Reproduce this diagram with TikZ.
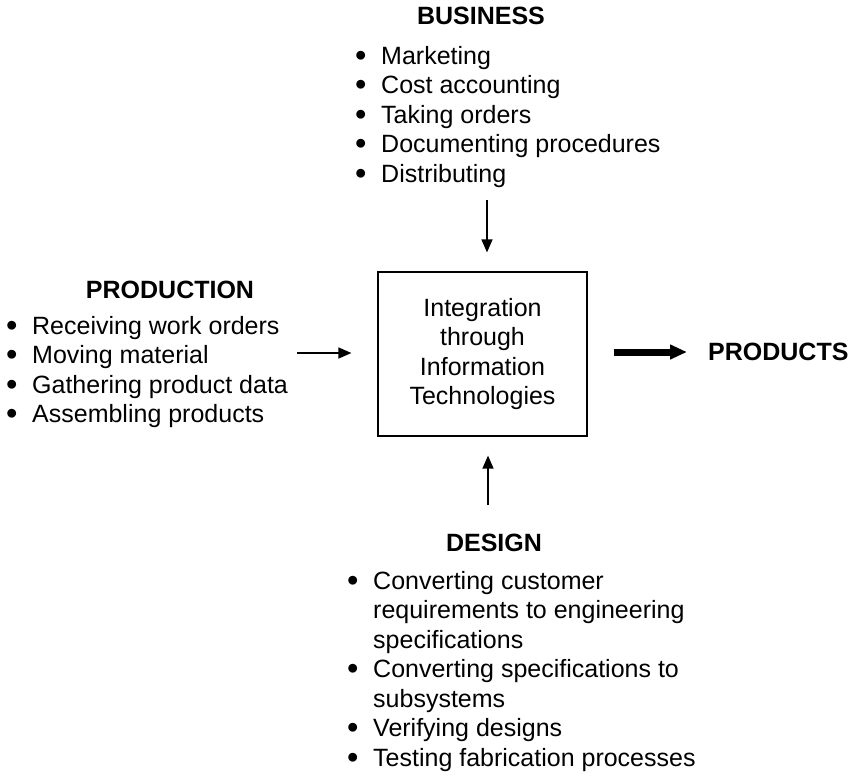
\documentclass[tikz,border=0pt]{standalone}
\usepackage{fontspec}
\usepackage{graphicx}
\setmainfont{Liberation Sans}
\usetikzlibrary{positioning}
\usetikzlibrary{arrows.meta}

\newcommand{\bul}{\makebox[24pt][l]{\hspace*{-2pt}\raisebox{-0.07em}{\scalebox{1.3}{\textbullet}}}}
\newcommand{\ind}{\hspace*{24pt}}

\begin{document}
\begin{tikzpicture}
		[x=1pt, y=-1pt,
		 heading/.style={font=\bfseries\fontsize{25}{29.5}\selectfont, inner sep=0pt},
		 items/.style={font=\fontsize{25}{29.5}\selectfont, align=left, anchor=north west, inner sep=0pt},
		 flow/.style={line width=1.3pt, -{Triangle[length=13pt, width=11pt]}},
		 bigflow/.style={line width=7pt, -{Triangle[length=17pt, width=14pt]}}]
		\useasboundingbox (0,0) rectangle (850,777);

		\node[draw, line width=1.2pt, minimum width=209pt, minimum height=164pt,
			align=center, font=\fontsize{25}{29.5}\selectfont] (core) at (482.5,354)
			{Integration\\through\\Information\\Technologies};

		\node[heading] (bus) at (481,16) {BUSINESS};
		\node[items] (buslist) at (357,46) {\bul Marketing\\\bul Cost accounting\\\bul Taking orders\\\bul Documenting procedures\\\bul Distributing};

		\node[heading] (prod) at (170,290) {PRODUCTION};
		\node[items] (prodlist) at (8,316) {\bul Receiving work orders\\\bul Moving material\\\bul Gathering product data\\\bul Assembling products};

		\node[heading] (des) at (494,543) {DESIGN};
		\node[items] (deslist) at (349,571) {\bul Converting customer\\\ind requirements to engineering\\\ind specifications\\\bul Converting specifications to\\\ind subsystems\\\bul Verifying designs\\\bul Testing fabrication processes};

		\node[heading, anchor=west] (out) at (708,352) {PRODUCTS};

		\coordinate (busin) at (487,200);
		\coordinate (prodin) at (297,353);
		\coordinate (desin) at (488,505);

		\draw[flow, shorten >=19pt] (busin) to (busin |- core.north);
		\draw[flow, shorten >=26pt] (prodin) to (prodin -| core.west);
		\draw[flow, shorten >=19pt] (desin) to (desin |- core.south);
		\draw[bigflow, shorten <=26pt, shorten >=21pt] (core.east |- out) to (out.west);
	\end{tikzpicture}
\end{document}
